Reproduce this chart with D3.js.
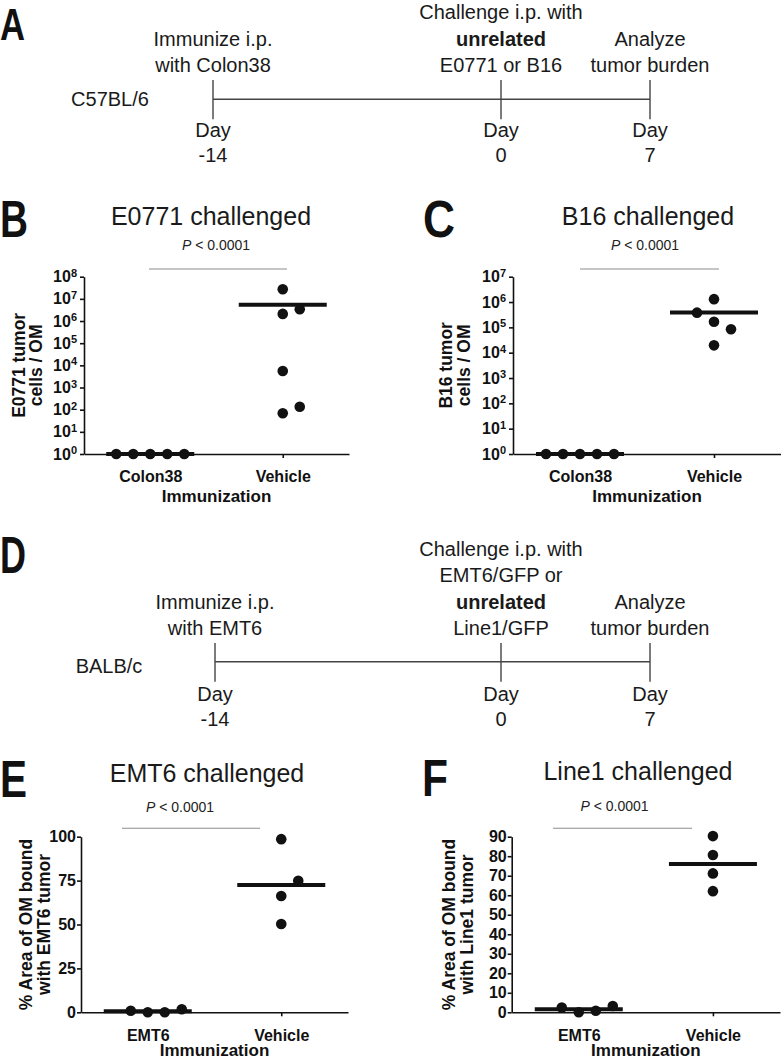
<!DOCTYPE html>
<html>
<head>
<meta charset="utf-8">
<script src="https://cdn.jsdelivr.net/npm/d3@7"></script>
<style>
  body { margin: 0; background: #fff; }
  svg { display: block; font-family: "Liberation Sans", Arial, Helvetica, sans-serif; fill: #1a1a1a; }
  .axis path, .axis line { stroke: #111; stroke-width: 1.6; }
  .axis text { font-weight: bold; font-size: 16px; fill: #111; font-family: "Liberation Sans", Arial, sans-serif; }
</style>
</head>
<body>
<div id="fig"></div>
<script>
// ---- values ----
const timelineDays = [-14, 0, 7];
const timelineDayLabels = ["-14", "0", "7"];
const boldWords = ["unrelated"];

const strainA = "C57BL/6";
const eventsA = [
  ["Immunize i.p.", "with Colon38"],
  ["Challenge i.p. with", "unrelated", "E0771 or B16"],
  ["Analyze", "tumor burden"]
];
const strainD = "BALB/c";
const eventsD = [
  ["Immunize i.p.", "with EMT6"],
  ["Challenge i.p. with", "EMT6/GFP or", "unrelated", "Line1/GFP"],
  ["Analyze", "tumor burden"]
];

const groupsColon = ["Colon38", "Vehicle"];
const e0771Colon38 = [1, 1, 1, 1, 1];
const e0771Vehicle = [2.7e7, 2.1e6, 3.4e6, 5.6e3, 69, 135];
const e0771Ticks = [1e0, 1e1, 1e2, 1e3, 1e4, 1e5, 1e6, 1e7, 1e8];

const b16Colon38 = [1, 1, 1, 1, 1];
const b16Vehicle = [1.3e6, 1.67e5, 1.95e4, 8.4e4, 3.8e5];
const b16Ticks = [1e0, 1e1, 1e2, 1e3, 1e4, 1e5, 1e6, 1e7];

const groupsEmt6 = ["EMT6", "Vehicle"];
const emt6Emt6 = [0, 0, 0.9, 1.7];
const emt6Vehicle = [98.6, 66.2, 50.3, 74.9];
const emt6Ticks = [0, 25, 50, 75, 100];

const line1Emt6 = [0, 0.8, 2.4, 3.2];
const line1Vehicle = [90.3, 80.6, 71.2, 62.1];
const line1Ticks = [0, 10, 20, 30, 40, 50, 60, 70, 80, 90];

const pText = " < 0.0001";
const xAxisTitle = "Immunization";

// ---- layout ----
const W = 781, H = 1060;
const svg = d3.select("#fig").append("svg").attr("width", W).attr("height", H);

function panelLetter(letter, x, y, w, size) {
  svg.append("text")
    .attr("x", x).attr("y", y)
    .attr("font-size", size || 52).attr("font-weight", "bold")
    .attr("textLength", w).attr("lengthAdjust", "spacingAndGlyphs")
    .attr("fill", "#111")
    .text(letter);
}

function drawTimeline(cfg) {
  const g = svg.append("g");
  const x = d3.scaleLinear().domain(timelineDays).range(cfg.range);
  const rowGap = 26.5;

  g.append("line")
    .attr("x1", x(d3.min(timelineDays))).attr("x2", x(d3.max(timelineDays)))
    .attr("y1", cfg.lineY).attr("y2", cfg.lineY)
    .attr("stroke", "#444").attr("stroke-width", 1.4);

  g.selectAll(".tl-tick")
    .data(timelineDays)
    .enter().append("line")
    .attr("class", "tl-tick")
    .attr("x1", d => x(d)).attr("x2", d => x(d))
    .attr("y1", cfg.tickTop).attr("y2", cfg.tickBottom)
    .attr("stroke", "#444").attr("stroke-width", 1.4);

  cfg.events.forEach((lines, i) => {
    const n = lines.length;
    lines.forEach((s, j) => {
      g.append("text")
        .attr("x", x(timelineDays[i]))
        .attr("y", cfg.textBottom - (n - 1 - j) * rowGap)
        .attr("text-anchor", "middle")
        .attr("font-size", 20)
        .attr("font-weight", boldWords.includes(s) ? "bold" : "normal")
        .text(s);
    });
  });

  timelineDays.forEach((d, i) => {
    g.append("text").attr("x", x(d)).attr("y", cfg.dayY)
      .attr("text-anchor", "middle").attr("font-size", 20).text("Day");
    g.append("text").attr("x", x(d)).attr("y", cfg.dayY + 25)
      .attr("text-anchor", "middle").attr("font-size", 20).text(timelineDayLabels[i]);
  });

  g.append("text").attr("x", cfg.strainX).attr("y", cfg.strainY)
    .attr("text-anchor", "middle").attr("font-size", 20).text(cfg.strain);
}

// spread points of one column sideways like a scatter dot plot
function spreadColumn(values, y, minGap) {
  const slots = [0, 1, -1, 2, -2, 3, -3];
  const placed = [];
  return values.map(v => {
    const py = y(v);
    const slot = slots.find(s => !placed.some(p => p.slot === s && Math.abs(p.y - py) < minGap));
    placed.push({ y: py, slot });
    return { value: v, y: py, slot };
  });
}

function drawDotPlot(cfg) {
  const g = svg.append("g");
  const x = d3.scalePoint().domain(cfg.groups).range([cfg.x0, cfg.x1]).padding(0.5);
  const y = (cfg.log ? d3.scaleLog() : d3.scaleLinear())
    .domain(cfg.domain).range([cfg.yBot, cfg.yTop]);
  const midX = (cfg.x0 + cfg.x1) / 2;
  const midY = (cfg.yTop + cfg.yBot) / 2;
  const step = 17, r = 5.3, halfMean = 44;

  // title + p value
  g.append("text").attr("x", cfg.titleX).attr("y", cfg.titleY)
    .attr("text-anchor", "middle").attr("font-size", 25).attr("fill", "#1a1a1a")
    .text(cfg.title);
  const p = g.append("text").attr("x", cfg.pX).attr("y", cfg.pY)
    .attr("text-anchor", "middle").attr("font-size", 14).attr("fill", "#222");
  p.append("tspan").attr("font-style", "italic").text("P");
  p.append("tspan").text(pText);
  g.append("line")
    .attr("x1", cfg.sig[0]).attr("x2", cfg.sig[1])
    .attr("y1", cfg.sig[2]).attr("y2", cfg.sig[2])
    .attr("stroke", "#8c8c8c").attr("stroke-width", 1.1);

  // axes
  const yAxis = d3.axisLeft(y).tickValues(cfg.ticks).tickSize(4).tickSizeOuter(0)
    .tickPadding(cfg.log ? 3 : 1).tickFormat(d => cfg.log ? "" : d);
  const yg = g.append("g").attr("class", "axis")
    .attr("transform", `translate(${cfg.x0},0)`).call(yAxis);
  if (cfg.log) {
    yg.selectAll(".tick text").attr("font-size", 17).each(function(d) {
      const t = d3.select(this);
      t.append("tspan").text("10");
      t.append("tspan").attr("dy", "-0.5em").attr("font-size", "11px")
        .text(Math.round(Math.log10(d)));
    });
  }

  const xAxis = d3.axisBottom(x).tickSize(4).tickSizeOuter(0).tickPadding(13);
  const xg = g.append("g").attr("class", "axis")
    .attr("transform", `translate(0,${cfg.yBot})`).call(xAxis);
  xg.selectAll(".tick text").attr("font-size", 15);

  g.append("text").attr("x", midX).attr("y", cfg.xTitleY)
    .attr("text-anchor", "middle").attr("font-size", 17).attr("font-weight", "bold")
    .attr("fill", "#111").text(xAxisTitle);

  cfg.yLabel.forEach((s, i) => {
    g.append("text")
      .attr("transform", "rotate(-90)")
      .attr("x", -midY).attr("y", cfg.yLabelX[i])
      .attr("text-anchor", "middle").attr("font-size", 17.5).attr("font-weight", "bold")
      .attr("fill", "#111").text(s);
  });

  // means and dots
  cfg.groups.forEach((grp, i) => {
    const vals = cfg.series[i];
    const m = d3.mean(vals);
    g.append("line")
      .attr("x1", x(grp) - halfMean).attr("x2", x(grp) + halfMean)
      .attr("y1", y(m)).attr("y2", y(m))
      .attr("stroke", "#111").attr("stroke-width", 4);

    g.selectAll(`.dot-${i}`)
      .data(spreadColumn(vals, y, 17.2))
      .enter().append("circle")
      .attr("class", `dot-${i}`)
      .attr("cx", d => x(grp) + d.slot * step)
      .attr("cy", d => d.y)
      .attr("r", r)
      .attr("fill", "#111");
  });
}

// ---- panel A ----
panelLetter("A", 0, 40, 25, 44);
drawTimeline({
  range: [213, 501, 650], lineY: 99.3, tickTop: 80, tickBottom: 119.3,
  textBottom: 72, dayY: 137, events: eventsA,
  strain: strainA, strainX: 110, strainY: 106
});

// ---- panels B, C ----
panelLetter("B", 0, 237, 28);
drawDotPlot({
  title: "E0771 challenged", titleX: 211, titleY: 224.5,
  pX: 216, pY: 250, sig: [149, 287, 269],
  x0: 84, x1: 349, yTop: 276.7, yBot: 454,
  log: true, domain: [1, 1e8], ticks: e0771Ticks,
  yLabel: ["E0771 tumor", "cells / OM"], yLabelX: [25, 42],
  groups: groupsColon, series: [e0771Colon38, e0771Vehicle],
  xTitleY: 502
});

panelLetter("C", 423, 237, 32);
drawDotPlot({
  title: "B16 challenged", titleX: 648, titleY: 224.5,
  pX: 645, pY: 250, sig: [580, 719, 269],
  x0: 513, x1: 781, yTop: 276.7, yBot: 454,
  log: true, domain: [1, 1e7], ticks: b16Ticks,
  yLabel: ["B16 tumor", "cells / OM"], yLabelX: [452, 470],
  groups: groupsColon, series: [b16Colon38, b16Vehicle],
  xTitleY: 502
});

// ---- panel D ----
panelLetter("D", 0, 573, 26);
drawTimeline({
  range: [215, 501, 650], lineY: 661.7, tickTop: 643, tickBottom: 681.7,
  textBottom: 635, dayY: 701, events: eventsD,
  strain: strainD, strainX: 109, strainY: 673
});

// ---- panels E, F ----
panelLetter("E", 0, 797, 27);
drawDotPlot({
  title: "EMT6 challenged", titleX: 207, titleY: 782,
  pX: 180, pY: 812, sig: [122, 260, 828.3],
  x0: 81, x1: 348, yTop: 836.7, yBot: 1012.3,
  log: false, domain: [0, 100], ticks: emt6Ticks,
  yLabel: ["% Area of OM bound", "with EMT6 tumor"], yLabelX: [32, 50],
  groups: groupsEmt6, series: [emt6Emt6, emt6Vehicle],
  xTitleY: 1056
});

panelLetter("F", 422, 796, 26);
drawDotPlot({
  title: "Line1 challenged", titleX: 638, titleY: 780,
  pX: 614.5, pY: 810.7, sig: [553, 692, 828.3],
  x0: 511.7, x1: 780, yTop: 836.7, yBot: 1012.3,
  log: false, domain: [0, 90], ticks: line1Ticks,
  yLabel: ["% Area of OM bound", "with Line1 tumor"], yLabelX: [455, 473],
  groups: groupsEmt6, series: [line1Emt6, line1Vehicle],
  xTitleY: 1056
});
</script>
</body>
</html>
